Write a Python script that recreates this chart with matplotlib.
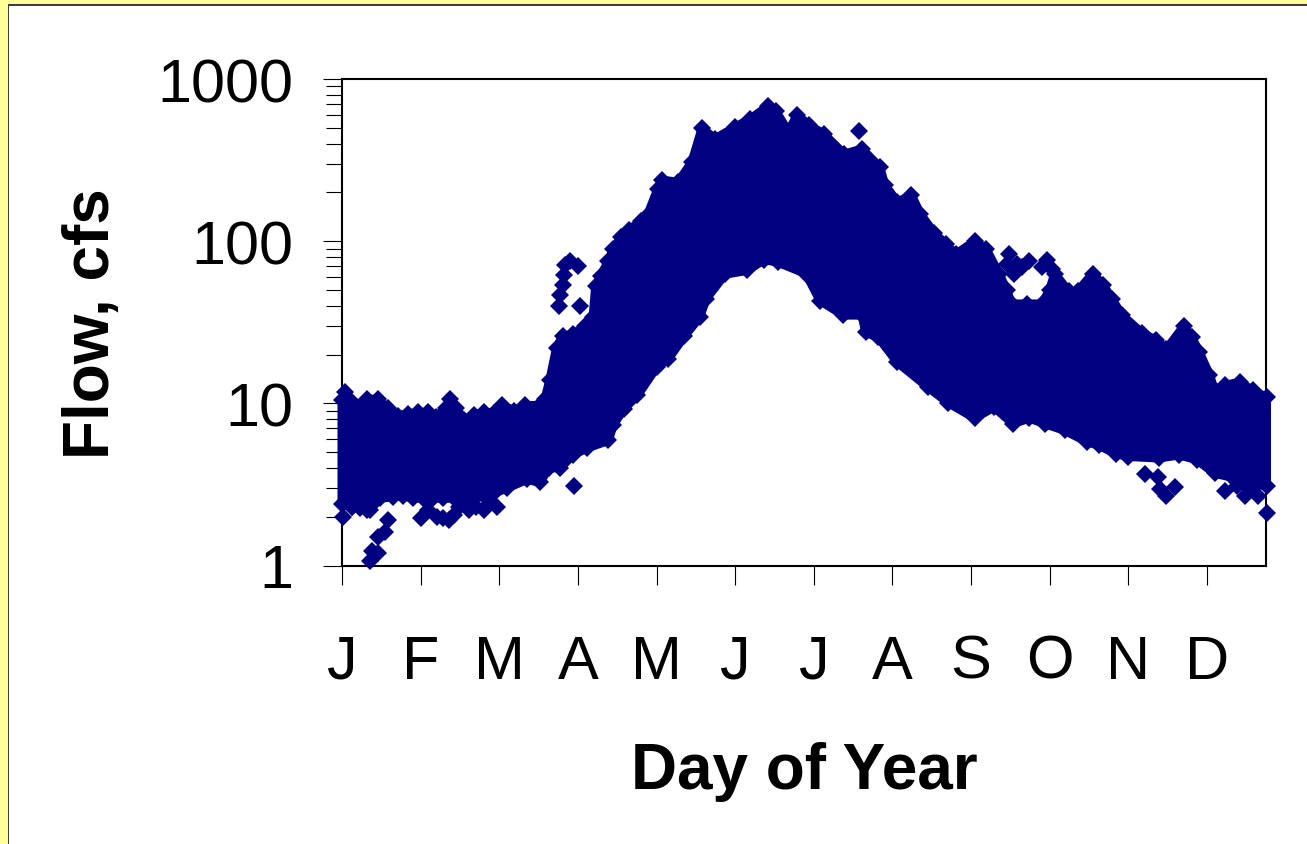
import matplotlib
matplotlib.use('Agg')
import matplotlib.pyplot as plt
from matplotlib.patches import Rectangle

###############################################################################
# Data
###############################################################################

month_labels = ['J', 'F', 'M', 'A', 'M', 'J', 'J', 'A', 'S', 'O', 'N', 'D']
month_ticks = [0, 31, 62, 93, 124, 155, 186, 217, 248, 279, 310, 341]

# upper edge of the dense cloud
upper_days = [0, 1, 3, 8, 10, 14, 18, 22, 26, 30, 34, 37, 41, 42.5, 45, 48, 52, 56, 60, 63,
              68, 72, 78, 80, 82, 84.6, 87, 91, 96, 99, 100, 102, 105, 107, 110, 113, 118,
              120.5, 124.5, 126, 132.5, 138, 142, 147, 155, 161, 168, 171, 176, 179.5, 184,
              190, 198, 205, 212, 214, 219, 224.5, 228, 233.5, 238, 242, 249.5, 254, 259,
              262, 264, 270, 276, 279, 281, 286.5, 290, 296, 300, 303.5, 307.5, 315.5, 321,
              325, 332, 335, 338, 342, 344, 348, 354, 359, 364.5]
upper_flow = [10.5, 11.7, 10.5, 9.6, 10.6, 10.6, 9.4, 8.4, 8.6, 8.8, 8.8, 8.2, 9.4, 10.6, 9.4,
              7.9, 8.5, 8.8, 8.7, 9.7, 9.0, 9.7, 9.7, 10.6, 14, 22, 25.9, 26.7, 29.9, 34, 52.7,
              60.8, 75, 89, 106, 117, 133, 145, 209, 238, 231, 308, 499, 426, 505, 566, 681,
              634, 471, 600, 520, 457, 344, 370, 286, 222, 174, 192, 147, 112, 96, 83, 100, 89,
              63, 50, 41, 41, 41, 50, 63, 49, 49, 63, 54, 44, 35, 27, 24.5, 21.5, 30, 25.5,
              20.6, 15, 12, 12.9, 13.5, 12, 10.9]

# lower edge of the dense cloud
lower_days = [0, 4, 8, 11, 15, 20, 24, 28, 32, 36, 40, 44, 48, 52, 56, 60, 65, 73, 78, 81.5,
              86, 91, 96.5, 105, 107, 111, 116.5, 124, 128.5, 135, 141, 143.5, 151, 159.7,
              166.5, 172, 183, 188.5, 197.6, 205, 206.5, 211.5, 219, 231, 239, 249.5, 257,
              264.5, 271, 277, 285, 293.7, 298.5, 305, 310, 322, 330, 337, 344, 351, 356,
              364.5]
lower_flow = [2.4, 2.3, 2.5, 2.2, 2.6, 2.65, 2.7, 2.6, 2.6, 2.6, 2.6, 2.6, 2.6, 2.6, 2.7, 2.8,
              3.0, 3.4, 3.25, 4, 4, 4.8, 5.3, 5.9, 7.4, 9.2, 11.2, 16.7, 18.7, 26, 34, 44,
              62.5, 66, 77, 74, 63, 43, 35, 35, 27.4, 25.5, 17.9, 12.6, 10.1, 8.1, 9.5, 7.5,
              8.1, 7.5, 6.8, 5.8, 5.5, 4.9, 4.7, 4.6, 4.8, 4.5, 3.7, 3.5, 3.2, 3.1]

# separate points outside the cloud
outlier_days = [0.5, 4, 7, 10, 11, 12, 14, 14, 17, 18, 31, 34, 37.5, 40, 42, 44, 46, 50, 53, 56,
                58, 61, 91.3,
                85.5, 86, 87, 87.5, 88, 90, 93, 94, 204,
                262, 263, 265, 266, 268, 271, 276, 278, 280,
                316.6, 321.7, 322.5, 325, 328.5, 348, 353, 356, 358, 361, 364.5]
outlier_flow = [2.0, 2.3, 2.25, 2.2, 1.07, 1.22, 1.49, 1.2, 1.6, 1.92, 1.95, 2.2, 2.0, 1.95, 1.9,
                2.05, 2.3, 2.2, 2.3, 2.2, 2.4, 2.3, 3.1,
                40, 46.4, 54, 62, 71, 75, 70, 39.8, 477,
                72, 83, 63, 72, 69, 75, 69, 77, 67,
                3.65, 3.5, 2.95, 2.67, 3.07, 2.9, 3.1, 2.7, 3.0, 2.67, 2.12]

###############################################################################
# Figure
###############################################################################

plt.rcParams['font.family'] = ['Liberation Sans', 'DejaVu Sans']
navy = '#000080'

fig = plt.figure(figsize=(13.07, 8.45), dpi=100, facecolor='white')
ax = fig.add_axes([342/1307, (845-566.5)/845, 924/1307, 486.5/845])

# cloud body and its edge points
body_x = upper_days + lower_days[::-1]
body_y = upper_flow + lower_flow[::-1]
ax.fill(body_x, body_y, facecolor=navy, edgecolor=navy, lw=6.5, joinstyle='round',
        clip_on=False, zorder=3)
for days, flow in [(upper_days, upper_flow), (lower_days, lower_flow), (outlier_days, outlier_flow)]:
    ax.plot(days, flow, linestyle='none', marker='D', markersize=9, color=navy,
            markeredgewidth=0, clip_on=False, zorder=3)

ax.set_yscale('log')
ax.set_xlim(0, 364.3)
ax.set_ylim(1, 1000)
ax.set_yticks([1, 10, 100, 1000])
ax.set_yticklabels(['1', '10', '100', '1000'])
ax.set_xticks(month_ticks)
ax.set_xticklabels(month_labels)
ax.tick_params(axis='y', which='major', length=13.7, width=0.8, labelsize=44, pad=21)
ax.tick_params(axis='y', which='minor', length=11.5, width=0.8, labelleft=False)
ax.tick_params(axis='x', which='major', length=14, width=0.8, labelsize=44, pad=35)
for side in ax.spines:
    ax.spines[side].set_linewidth(1.5)

ax.set_xlabel('Day of Year', fontsize=46, fontweight='bold', labelpad=36)
ax.set_ylabel('Flow, cfs', fontsize=46, fontweight='bold', labelpad=26)

# yellow slide frame
frame = '#404030'
fig.add_artist(Rectangle((0, 0), 7.5/1307, 1, transform=fig.transFigure, color='#FFFF99', lw=0))
fig.add_artist(Rectangle((0, 1-5/845), 1, 5/845, transform=fig.transFigure, color='#FFFF99', lw=0))
fig.add_artist(Rectangle((7.5/1307, 0), 1.5/1307, 1-5/845, transform=fig.transFigure, color=frame, lw=0))
fig.add_artist(Rectangle((7.5/1307, 1-6.7/845), 1, 1.7/845, transform=fig.transFigure, color=frame, lw=0))

fig.savefig('out.png', dpi=100)
